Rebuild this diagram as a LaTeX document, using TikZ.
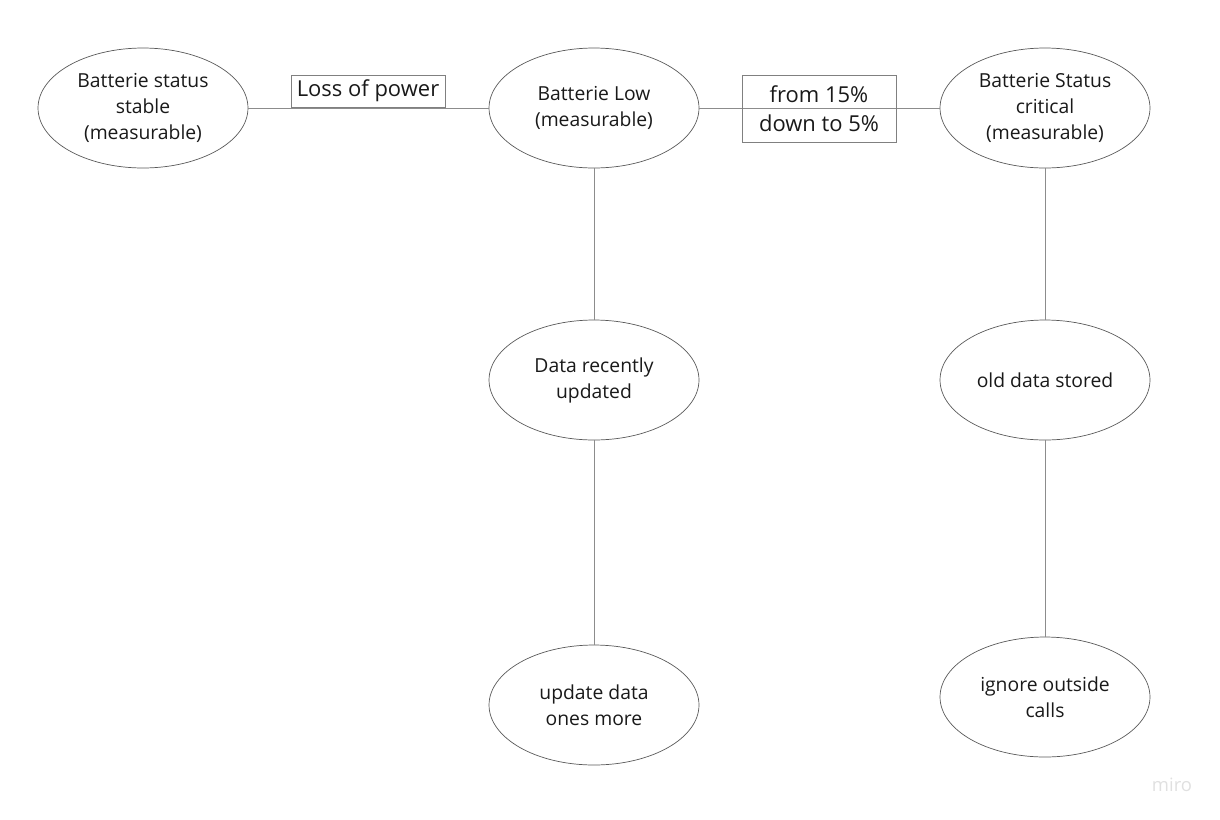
\documentclass[tikz,border=0pt]{standalone}
\usepackage{fontspec}
\setmainfont{Open Sans}
\usetikzlibrary{shapes.geometric}

\begin{document}
\begin{tikzpicture}[x=0.02cm, y=-0.02cm,
	state/.style={draw=black!65, ellipse, minimum width=4.2cm, minimum height=2.4cm,
		inner sep=0pt, align=center, font=\fontsize{11}{14.8}\selectfont, text=black!90},
	edgelabel/.style={draw=black!50, inner sep=0pt, align=center,
		font=\fontsize{12.5}{16.5}\selectfont, text=black!90},
	link/.style={draw=black!45, line width=0.5pt}]
\useasboundingbox (0, 0) rectangle (1220, 819);
% top row
\node[state] (stable) at (143, 108) {Batterie status\\stable\\(measurable)};
\node[state] (low) at (594, 108) {Batterie Low\\(measurable)};
\node[state] (critical) at (1045, 108) {Batterie Status\\critical\\(measurable)};
% low branch
\node[state] (recent) at (594, 380) {Data recently\\updated};
\node[state] (update) at (594, 705) {update data\\ones more};
% critical branch
\node[state] (stored) at (1045, 380) {old data stored};
\node[state] (ignore) at (1045, 697) {ignore outside\\calls};
\draw[link] (stable) -- (low);
\draw[link] (low) -- (critical);
\draw[link] (low) -- (recent);
\draw[link] (recent) -- (update);
\draw[link] (critical) -- (stored);
\draw[link] (stored) -- (ignore);
% labels
\node[edgelabel, minimum width=3.08cm, minimum height=0.64cm] (losslabel) at (368, 91) {Loss of power};
\node[edgelabel, minimum width=3.08cm, minimum height=1.34cm] (droplabel) at (819, 108.5) {from 15\%\\down to 5\%};
\node[text=black!12, font=\fontsize{10.5}{12}\selectfont] (watermark) at (1172, 785) {miro};
\end{tikzpicture}
\end{document}
